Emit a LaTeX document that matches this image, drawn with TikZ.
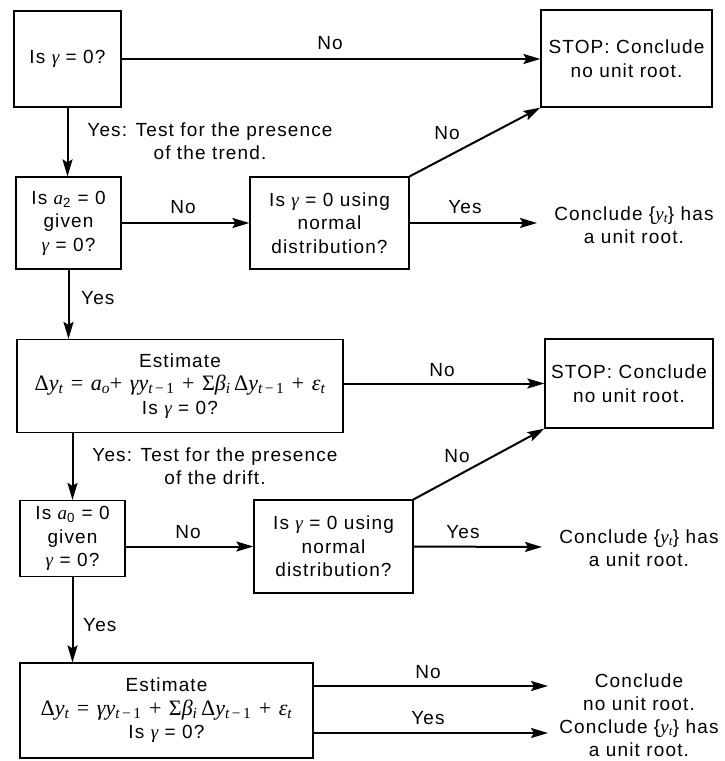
\documentclass[tikz,border=0pt]{standalone}
\usepackage{fontspec}
\setmainfont{Liberation Sans}[LetterSpace=6]
\newfontfamily\serif{Liberation Serif}
\newcommand{\mv}[1]{{\serif\itshape #1}}
\newcommand{\sbs}[1]{\textsubscript{#1}}
\newcommand{\op}[1]{\hspace{7.5pt}#1\hspace{7.5pt}}
\newcommand{\eqf}{\serif\fontsize{22}{23.5}\selectfont}
\usetikzlibrary{arrows.meta}
\begin{document}
\begin{tikzpicture}[x=1pt,y=-1pt,
  every node/.style={font=\fontsize{19}{23.5}\selectfont, inner sep=0pt, align=center},
  box/.style={draw, line width=1.2pt, rectangle},
  arr/.style={line width=2pt, -{Stealth[length=17pt,width=10pt,inset=3pt]}}]
\useasboundingbox (0,0) rectangle (724,761);
% boxes
\node[box, minimum width=107pt, minimum height=96pt] (b1) at (67.5,59) {Is \mv{γ} = 0?};
\node[box, minimum width=171pt, minimum height=97pt] (s1) at (626.5,58.5) {STOP: Conclude\\no unit root.};
\node[box, minimum width=105pt, minimum height=92pt] (b2) at (68.5,223) {Is \mv{a}\sbs{2} = 0\\given\\\mv{γ} = 0?};
\node[box, minimum width=159pt, minimum height=92pt] (b3) at (329.5,223) {Is \mv{γ} = 0 using\\normal\\distribution?};
\node (c1) at (634,225) {Conclude \{\mv{y}\sbs{\mv{t}}\} has\\a unit root.};
\node[box, minimum width=326pt, minimum height=93pt] (b4) at (180,386) {Estimate\\{\eqf Δ\mv{y}\sbs{\mv{t}}\op{=}\mv{a}\sbs{\mv{o}}+\hspace{7.5pt}\mv{γy}\sbs{\mv{t}\,−\,1}\op{+}Σ\mv{β}\sbs{\mv{i}}\,Δ\mv{y}\sbs{\mv{t}\,−\,1}\op{+}\mv{ε}\sbs{\mv{t}}}\\Is \mv{γ} = 0?};
\node[box, minimum width=168pt, minimum height=89pt] (s2) at (629,383.5) {STOP: Conclude\\no unit root.};
\node[box, minimum width=105pt, minimum height=76pt] (b5) at (72.5,538.5) {Is \mv{a}\sbs{0} = 0\\given\\\mv{γ} = 0?};
\node[box, minimum width=159pt, minimum height=93pt] (b6) at (333.5,546.5) {Is \mv{γ} = 0 using\\normal\\distribution?};
\node (c2) at (639,548) {Conclude \{\mv{y}\sbs{\mv{t}}\} has\\a unit root.};
\node[box, minimum width=293pt, minimum height=95pt] (b7) at (166.5,710.5) {Estimate\\{\eqf Δ\mv{y}\sbs{\mv{t}}\op{=}\mv{γy}\sbs{\mv{t}\,−\,1}\op{+}Σ\mv{β}\sbs{\mv{i}}\,Δ\mv{y}\sbs{\mv{t}\,−\,1}\op{+}\mv{ε}\sbs{\mv{t}}}\\Is \mv{γ} = 0?};
\node (c3) at (639,692) {Conclude\\no unit root.};
\node (c4) at (639,738) {Conclude \{\mv{y}\sbs{\mv{t}}\} has\\a unit root.};
% free arrow ends
\coordinate (e1) at (537,223);
\coordinate (e2) at (542,547);
\coordinate (e3) at (548,686);
\coordinate (e4) at (548,733);
% connectors
\draw[arr] (b1.east) -- (s1.west |- b1.east);
\node at (330,43) {No};
\draw[arr] (b1.south) -- (b1.south |- b2.north);
\node at (210,141) {Yes: Test for the presence\\of the trend.};
\draw[arr] (b2.east) -- (b3.west);
\node at (183,207) {No};
\draw[arr] (b3.north east) -- (s1.south west);
\node at (447,133) {No};
\draw[arr] (b3.east) -- (e1);
\node at (465,207) {Yes};
\draw[arr] (b2.south) -- (b2.south |- b4.north);
\node[anchor=west] at (81,298) {Yes};
\draw[arr] (b4.east |- s2.west) -- (s2.west);
\node at (442,370) {No};
\draw[arr] (b4.south -| b5.north) -- (b5.north);
\node at (215,466) {Yes: Test for the presence\\of the drift.};
\draw[arr] (b5.east |- b6.west) -- (b6.west);
\node at (188,532) {No};
\draw[arr] (b6.north east) -- (s2.south west);
\node at (457,456) {No};
\draw[arr] (b6.east) -- (e2);
\node at (463,532) {Yes};
\draw[arr] (b5.south) -- (b5.south |- b7.north);
\node[anchor=west] at (83,625) {Yes};
\draw[arr] (b7.east |- e3) -- (e3);
\node at (428,672) {No};
\draw[arr] (b7.east |- e4) -- (e4);
\node at (428,718) {Yes};
\end{tikzpicture}
\end{document}
